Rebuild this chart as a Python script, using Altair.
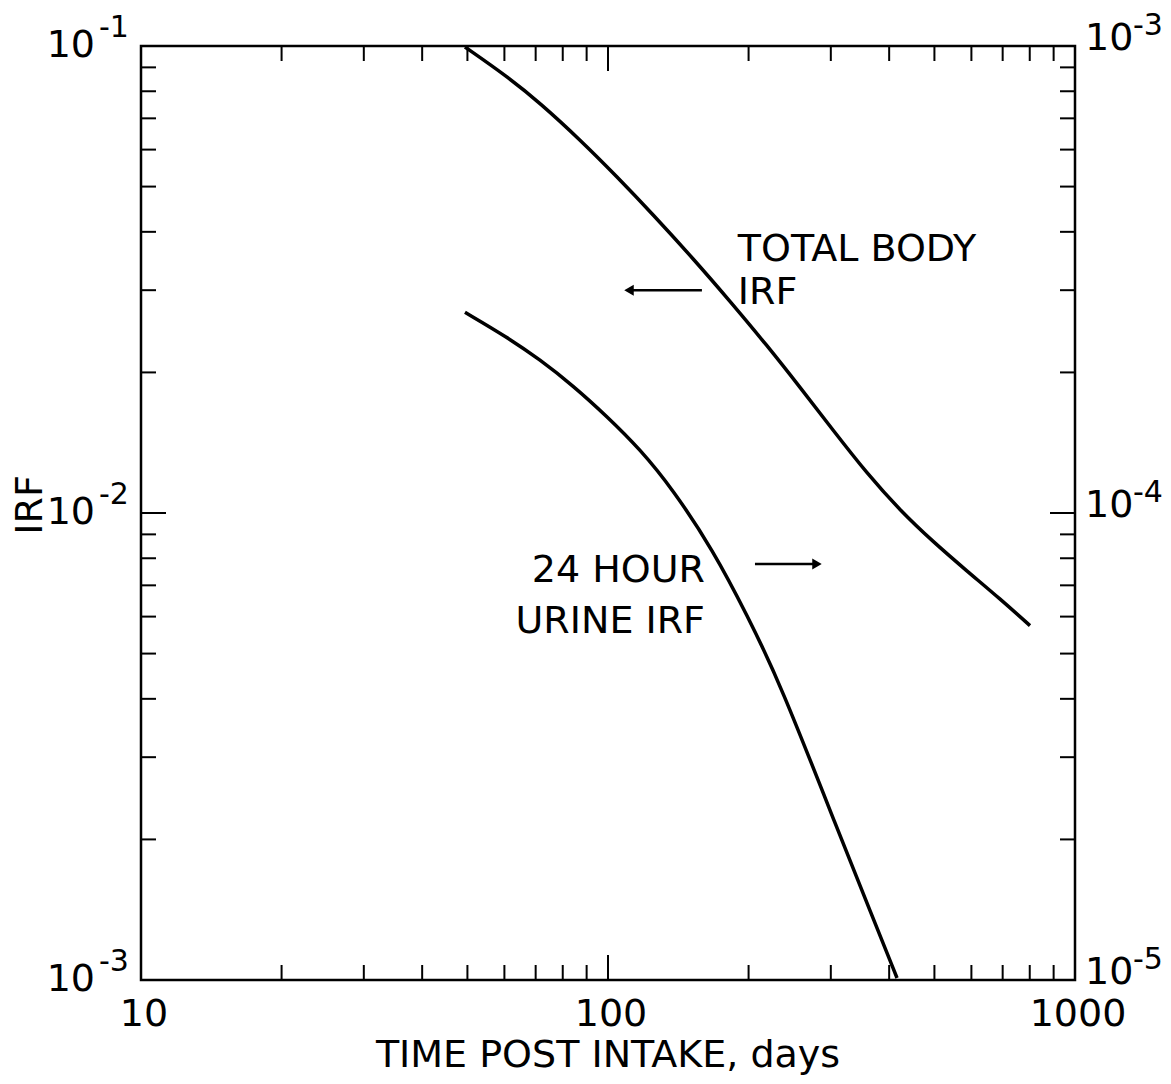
import altair as alt
import pandas as pd

# ---- data ----
days_total = [49.4, 60.8, 71.5, 87.1, 104.5, 124.8, 152.1, 182.4, 219.0, 257.7, 303.3, 358.6, 422.0, 496.6, 587.2, 691.0, 801.0]
irf_total = [0.0995, 0.08608, 0.07554, 0.06301, 0.05252, 0.04358, 0.03508, 0.02844, 0.02285, 0.01859,
             0.01504, 0.01215, 0.01013, 0.00868, 0.00751, 0.00655, 0.00574]

days_urine = [49.4, 60.8, 71.5, 84.1, 99.5, 117.1, 137.8, 167.8, 198.5, 233.5, 312.4, 365.8, 415.8]
irf_urine = [2.69e-4, 2.38e-4, 2.13e-4, 1.875e-4, 1.61e-4, 1.37e-4, 1.122e-4, 8.33e-5, 6.05e-5, 4.33e-5,
             2.06e-5, 1.39e-5, 1.01e-5]

x_major = [10, 100, 1000]
x_major_labels = ["10", "100", "1000"]
x_minor = [20, 30, 40, 50, 60, 70, 80, 90, 200, 300, 400, 500, 600, 700, 800, 900]
y_left_major = [0.001, 0.01, 0.1]
y_left_minor = [0.002, 0.003, 0.004, 0.005, 0.006, 0.007, 0.008, 0.009,
                0.02, 0.03, 0.04, 0.05, 0.06, 0.07, 0.08, 0.09]
left_bases = ["10", "10", "10"]
left_exponents = ["-3", "-2", "-1"]
y_right_major = [1e-5, 1e-4, 1e-3]
right_bases = ["10", "10", "10"]
right_exponents = ["-5", "-4", "-3"]

x_title = "TIME POST INTAKE, days"
y_title = "IRF"

left_labels = ["TOTAL BODY", "IRF"]
left_label_x = [189.7, 189.7]
left_label_y = [0.0366, 0.0296]
right_labels = ["24 HOUR", "URINE IRF"]
right_label_x = [161.3, 161.3]
right_label_y = [0.00751, 0.00584]

arrow_left_x = [110.9, 158.9]
arrow_left_y = [0.0300]
arrow_right_x = [206.4, 280.2]
arrow_right_y = [0.00778]

W = 934
H = 934
FONT = "DejaVu Sans"
BIG = 38
EXP = 30
MINOR = 15
MAJOR = 25

xs = alt.Scale(type="log", domain=[10, 1000])
ys_left = alt.Scale(type="log", domain=[0.001, 0.1])
ys_right = alt.Scale(type="log", domain=[1e-5, 1e-3])

df_total = pd.DataFrame({"days": days_total, "irf": irf_total})
df_urine = pd.DataFrame({"days": days_urine, "irf": irf_urine})

total = alt.Chart(df_total).mark_line(color="black", strokeWidth=3.5, interpolate="basis").encode(
    x=alt.X("days:Q", scale=xs, axis=None),
    y=alt.Y("irf:Q", scale=ys_left, axis=None),
)


def xticks(vals, length, top):
    d = pd.DataFrame({"v": vals})
    if top:
        y0, y1 = 0, length
    else:
        y0, y1 = H, H - length
    return alt.Chart(d).mark_rule(color="black", strokeWidth=2).encode(
        x=alt.X("v:Q", scale=xs, axis=None), y=alt.value(y0), y2=alt.value(y1))


def yticks(vals, length, right):
    d = pd.DataFrame({"v": vals})
    if right:
        x0, x1 = W, W - length
    else:
        x0, x1 = 0, length
    return alt.Chart(d).mark_rule(color="black", strokeWidth=2).encode(
        y=alt.Y("v:Q", scale=ys_left, axis=None), x=alt.value(x0), x2=alt.value(x1))


tick_layers = [
    xticks(x_minor, MINOR, False), xticks(x_minor, MINOR, True),
    xticks(x_major, MAJOR, False), xticks(x_major, MAJOR, True),
    yticks(y_left_minor, MINOR, False), yticks(y_left_minor, MINOR, True),
    yticks(y_left_major, MAJOR, False), yticks(y_left_major, MAJOR, True),
]

# x tick labels
x_lab = alt.Chart(pd.DataFrame({"v": x_major, "t": x_major_labels})).mark_text(
    align="center", baseline="top", fontSize=BIG, dx=3).encode(
    x=alt.X("v:Q", scale=xs, axis=None), y=alt.value(H + 16), text="t:N")

# left y tick labels: base and exponent
left_base = alt.Chart(pd.DataFrame({"v": y_left_major, "t": left_bases})).mark_text(
    align="right", baseline="middle", fontSize=BIG).encode(
    y=alt.Y("v:Q", scale=ys_left, axis=None), x=alt.value(-46), text="t:N")
left_exp = alt.Chart(pd.DataFrame({"v": y_left_major, "t": left_exponents})).mark_text(
    align="left", baseline="middle", fontSize=EXP, dy=-18).encode(
    y=alt.Y("v:Q", scale=ys_left, axis=None), x=alt.value(-42), text="t:N")

# axis titles
titles_x = alt.Chart(pd.DataFrame({"t": [x_title]})).mark_text(
    align="center", baseline="middle", fontSize=BIG).encode(
    x=alt.value(W / 2), y=alt.value(H + 76), text="t:N")
titles_y = alt.Chart(pd.DataFrame({"t": [y_title]})).mark_text(
    align="center", baseline="middle", fontSize=BIG, angle=270).encode(
    x=alt.value(-110), y=alt.value(459), text="t:N")

ann_left = alt.Chart(pd.DataFrame({"x": left_label_x, "y": left_label_y, "t": left_labels})).mark_text(
    align="left", baseline="middle", fontSize=BIG).encode(
    x=alt.X("x:Q", scale=xs, axis=None), y=alt.Y("y:Q", scale=ys_left, axis=None), text="t:N")

ann_right = alt.Chart(pd.DataFrame({"x": right_label_x, "y": right_label_y, "t": right_labels})).mark_text(
    align="right", baseline="middle", fontSize=BIG).encode(
    x=alt.X("x:Q", scale=xs, axis=None), y=alt.Y("y:Q", scale=ys_left, axis=None), text="t:N")

arr_l = pd.DataFrame({"x": [arrow_left_x[0]], "x2": [arrow_left_x[1]], "y": arrow_left_y})
arr_r = pd.DataFrame({"x": [arrow_right_x[0]], "x2": [arrow_right_x[1]], "y": arrow_right_y})

shaft_l = alt.Chart(arr_l).mark_rule(color="black", strokeWidth=2.5).encode(
    x=alt.X("x:Q", scale=xs, axis=None), x2="x2:Q", y=alt.Y("y:Q", scale=ys_left, axis=None))
head_l = alt.Chart(arr_l).mark_point(shape="triangle-left", filled=True, color="black", size=120, opacity=1).encode(
    x=alt.X("x:Q", scale=xs, axis=None), y=alt.Y("y:Q", scale=ys_left, axis=None))
shaft_r = alt.Chart(arr_r).mark_rule(color="black", strokeWidth=2.5).encode(
    x=alt.X("x:Q", scale=xs, axis=None), x2="x2:Q", y=alt.Y("y:Q", scale=ys_left, axis=None))
head_r = alt.Chart(arr_r).mark_point(shape="triangle-right", filled=True, color="black", size=120, opacity=1).encode(
    x=alt.X("x2:Q", scale=xs, axis=None), y=alt.Y("y:Q", scale=ys_left, axis=None))

left_group = alt.layer(total, *tick_layers, x_lab, left_base, left_exp, titles_x, titles_y,
                       ann_left, ann_right, shaft_l, head_l, shaft_r, head_r)

urine = alt.Chart(df_urine).mark_line(color="black", strokeWidth=3.5, interpolate="basis").encode(
    x=alt.X("days:Q", scale=xs, axis=None),
    y=alt.Y("irf:Q", scale=ys_right, axis=None),
)

right_base = alt.Chart(pd.DataFrame({"v": y_right_major, "t": right_bases})).mark_text(
    align="left", baseline="middle", fontSize=BIG, dy=-7).encode(
    y=alt.Y("v:Q", scale=ys_right, axis=None), x=alt.value(W + 10), text="t:N")
right_exp = alt.Chart(pd.DataFrame({"v": y_right_major, "t": right_exponents})).mark_text(
    align="left", baseline="middle", fontSize=EXP, dy=-20).encode(
    y=alt.Y("v:Q", scale=ys_right, axis=None), x=alt.value(W + 58), text="t:N")

right_group = alt.layer(urine, right_base, right_exp)

chart = alt.layer(left_group, right_group).resolve_scale(y="independent").properties(
    width=W, height=H, autosize="none",
    padding={"left": 133, "top": 38, "right": 88, "bottom": 96},
    background="white",
).configure_view(stroke="black", strokeWidth=2.5).configure_text(
    font=FONT, color="black"
)

chart.save("out.html", embed_options={"renderer": "svg", "actions": False})
